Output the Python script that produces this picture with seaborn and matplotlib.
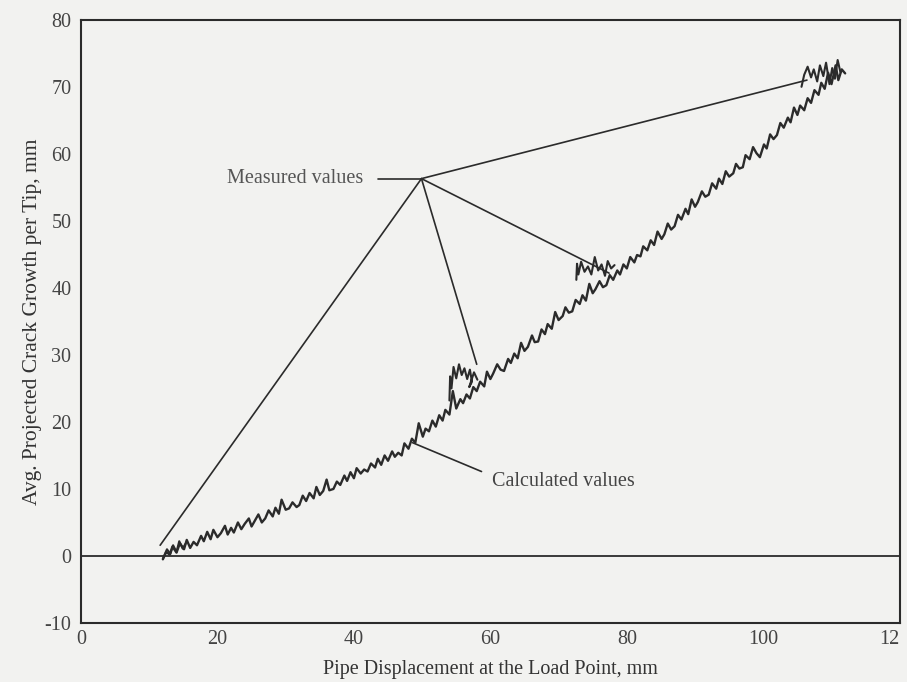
import numpy as np
import pandas as pd
import matplotlib
matplotlib.use("Agg")
import matplotlib.pyplot as plt
import seaborn as sns

# calculated crack growth
calc_x = [
    12.0, 12.5, 13.0, 13.4, 14.0, 14.5, 15.1, 15.5, 16.0, 16.5,
    17.0, 17.6, 18.0, 18.5, 19.0, 19.4, 20.0, 20.5, 21.1, 21.5,
    22.0, 22.4, 23.0, 23.5, 24.0, 24.6, 25.0, 25.5, 26.0, 26.5,
    27.0, 27.5, 28.1, 28.5, 29.0, 29.4, 30.0, 30.5, 31.0, 31.6,
    32.0, 32.5, 33.0, 33.5, 34.1, 34.5, 35.0, 35.5, 36.0, 36.4,
    37.0, 37.5, 38.0, 38.6, 39.0, 39.5, 40.0, 40.4, 41.0, 41.5,
    42.0, 42.5, 43.1, 43.5, 44.0, 44.5, 45.0, 45.6, 46.0, 46.5,
    47.0, 47.4, 48.0, 48.5, 49.0, 49.5, 50.1, 50.5, 51.0, 51.5,
    52.0, 52.5, 53.0, 53.4, 54.0, 54.5, 55.0, 55.6, 56.0, 56.5,
    57.0, 57.5, 58.0, 58.5, 59.1, 59.5, 60.0, 60.4, 61.0, 61.5,
    62.0, 62.6, 63.0, 63.5, 64.0, 64.5, 65.0, 65.5, 66.1, 66.5,
    67.0, 67.5, 68.0, 68.4, 69.0, 69.5, 70.0, 70.6, 71.0, 71.5,
    72.0, 72.5, 73.1, 73.5, 74.0, 74.5, 75.0, 75.4, 76.0, 76.5,
    77.0, 77.5, 78.0, 78.6, 79.0, 79.5, 80.0, 80.5, 81.1, 81.5,
    82.0, 82.4, 83.0, 83.5, 84.0, 84.5, 85.1, 85.5, 86.0, 86.5,
    87.0, 87.5, 88.0, 88.6, 89.0, 89.5, 90.0, 90.4, 91.0, 91.5,
    92.0, 92.5, 93.1, 93.5, 94.0, 94.5, 95.0, 95.6, 96.0, 96.5,
    97.0, 97.4, 98.0, 98.5, 99.0, 99.5, 100.1, 100.5, 101.0, 101.5,
    102.0, 102.5, 103.0, 103.6, 104.0, 104.5, 105.0, 105.4, 106.0, 106.5,
    107.0, 107.5, 108.1, 108.5, 109.0, 109.5, 110.0, 110.6, 111.0, 111.5,
    112.0,
]
calc_y = [
    -0.5, 0.6, 0.2, 1.4, 0.5, 1.9, 1.0, 2.4, 1.2, 2.1,
    1.6, 3.0, 2.2, 3.6, 2.5, 3.9, 2.8, 3.4, 4.5, 3.2,
    4.2, 3.5, 5.0, 4.0, 4.8, 5.6, 4.4, 5.3, 6.2, 5.0,
    5.6, 6.8, 5.9, 7.2, 6.3, 8.4, 6.9, 7.1, 8.0, 7.3,
    7.6, 9.0, 8.2, 9.4, 8.6, 10.3, 9.1, 9.7, 11.4, 9.8,
    10.0, 11.1, 10.6, 12.0, 11.2, 12.5, 11.6, 13.1, 12.3, 12.9,
    12.6, 13.8, 13.2, 14.5, 13.6, 15.0, 14.2, 15.6, 14.8, 15.4,
    15.0, 16.8, 16.0, 17.5, 16.9, 19.8, 17.8, 19.0, 18.6, 20.2,
    19.3, 21.0, 20.2, 21.8, 21.1, 24.6, 22.0, 23.4, 22.8, 24.1,
    23.5, 25.2, 24.6, 26.0, 25.3, 27.5, 26.4, 27.2, 28.6, 27.8,
    27.6, 29.4, 28.8, 30.2, 29.5, 31.8, 30.6, 31.2, 32.9, 31.9,
    32.0, 33.8, 33.1, 34.6, 33.9, 36.4, 35.2, 35.8, 37.1, 36.3,
    36.5, 38.2, 37.6, 38.9, 38.1, 40.6, 39.2, 39.8, 41.0, 40.1,
    40.4, 41.9, 41.2, 42.6, 42.0, 43.5, 42.9, 44.6, 43.8, 44.9,
    44.7, 46.2, 45.6, 47.1, 46.4, 48.4, 47.3, 48.0, 49.6, 48.7,
    49.2, 50.9, 50.2, 51.8, 51.0, 53.2, 52.1, 52.8, 54.4, 53.6,
    53.9, 55.6, 54.8, 56.3, 55.5, 57.4, 56.6, 57.1, 58.5, 57.8,
    58.0, 59.8, 59.2, 61.0, 60.1, 59.5, 61.4, 60.8, 62.9, 62.2,
    62.8, 64.6, 63.9, 65.4, 64.7, 66.9, 65.8, 67.2, 66.5, 68.3,
    67.6, 69.5, 68.8, 70.6, 69.7, 72.1, 70.4, 73.2, 71.0, 72.6,
    72.0,
]

# measured values: four short bursts along the curve
meas_seg = [1] * 8 + [2] * 14 + [3] * 14 + [4] * 14
meas_x = [
    12.0, 12.6, 13.1, 13.5, 14.0, 14.4, 14.9, 15.3,
    54.0, 54.1, 54.3, 54.6, 55.0, 55.4, 55.8, 56.2, 56.6, 57.0, 57.3, 56.9, 57.6, 58.1,
    72.6, 72.7, 72.9, 73.3, 73.8, 74.3, 74.8, 75.3, 75.8, 76.3, 76.8, 77.2, 77.7, 78.2,
    105.6, 106.0, 106.5, 107.0, 107.4, 107.9, 108.3, 108.8, 109.2, 109.7, 110.1, 110.5, 110.9, 111.3,
]
meas_y = [
    -0.4, 1.0, 0.3, 1.6, 0.6, 2.2, 1.1, 1.8,
    23.2, 26.8, 25.0, 28.2, 26.5, 28.6, 27.0, 28.0, 26.4, 27.8, 26.0, 25.2, 27.4, 26.3,
    41.2, 43.6, 42.0, 43.9, 42.4, 43.2, 42.0, 44.6, 42.6, 43.5, 41.8, 44.0, 42.9, 43.4,
    70.0, 71.8, 73.0, 71.4, 72.6, 70.8, 73.2, 71.6, 73.6, 70.4, 72.8, 71.2, 74.0, 72.2,
]

x_ticks = [0, 20, 40, 60, 80, 100, 120]
x_tick_labels = ["0", "20", "40", "60", "80", "100", "12"]
y_ticks = [-10, 0, 10, 20, 30, 40, 50, 60, 70, 80]

# leader lines for the two callouts
meas_label_pos = (21.4, 56.3)
meas_hub = (49.9, 56.3)
meas_stub_start = (43.5, 56.3)
meas_targets = [(11.6, 1.6), (58.0, 28.6), (77.4, 42.2), (106.4, 71.0)]
calc_label_pos = (60.3, 11.1)
calc_leader = [(48.6, 16.9), (58.7, 12.6)]

paper = "#f2f2f0"
ink = "#2b2b2b"

sns.set_theme(style="white")
plt.rcParams["font.family"] = ["Liberation Serif", "DejaVu Serif"]
plt.rcParams["axes.unicode_minus"] = False

fig = plt.figure(figsize=(9.07, 6.82), dpi=100, facecolor=paper)
ax = fig.add_axes([0.0893, 0.0865, 0.9027, 0.8845])
ax.set_facecolor(paper)

df_calc = pd.DataFrame({"x": calc_x, "y": calc_y})
df_meas = pd.DataFrame({"x": meas_x, "y": meas_y, "seg": meas_seg})

sns.lineplot(data=df_calc, x="x", y="y", sort=False, estimator=None,
             color=ink, linewidth=1.7, ax=ax)
sns.lineplot(data=df_meas, x="x", y="y", units="seg", sort=False, estimator=None,
             color=ink, linewidth=1.5, ax=ax)

ax.axhline(0, color=ink, linewidth=1.3, zorder=1)

# callouts
ax.text(*meas_label_pos, "Measured values", fontsize=14.5, color="#555555",
        ha="left", va="center")
ax.plot([meas_stub_start[0], meas_hub[0]], [meas_stub_start[1], meas_hub[1]],
        color=ink, linewidth=1.2)
for tx, ty in meas_targets:
    ax.plot([meas_hub[0], tx], [meas_hub[1], ty], color=ink, linewidth=1.2)

ax.text(*calc_label_pos, "Calculated values", fontsize=14.5, color="#444444",
        ha="left", va="center")
ax.plot([p[0] for p in calc_leader], [p[1] for p in calc_leader],
        color=ink, linewidth=1.2)

ax.set_xlim(0, 120)
ax.set_ylim(-10, 80)
ax.set_xticks(x_ticks)
ax.set_xticklabels(x_tick_labels)
ax.set_yticks(y_ticks)
ax.tick_params(axis="both", labelsize=14.5, colors="#444444", length=5,
               width=1.0, direction="out", pad=2)
ax.tick_params(axis="x", direction="inout", length=6)
# the last label is clipped to "12" in the scan; keep it inside the figure
ax.get_xticklabels()[-1].set_horizontalalignment("right")

for s in ax.spines.values():
    s.set_visible(True)
    s.set_color(ink)
    s.set_linewidth(1.5)

ax.set_xlabel("Pipe Displacement at the Load Point, mm", fontsize=14.5,
              color="#333333", labelpad=8)
ax.set_ylabel("Avg. Projected Crack Growth per Tip, mm", fontsize=15.5,
              color="#333333", labelpad=2)

fig.savefig("out.png", dpi=100, facecolor=paper)
